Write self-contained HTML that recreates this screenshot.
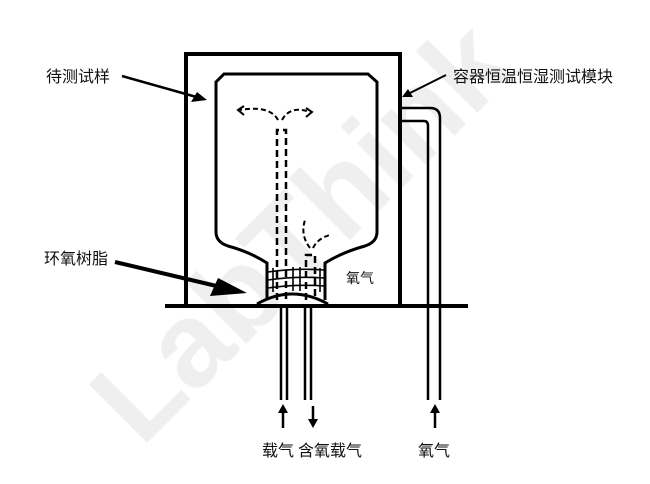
<!DOCTYPE html>
<html><head><meta charset="utf-8"><style>
html,body{margin:0;padding:0;background:#fff;}
svg{display:block;}
text{font-family:"Liberation Sans","Noto Sans CJK SC",sans-serif;fill:#111;}
</style></head><body>
<svg width="650" height="484" viewBox="0 0 650 484" xmlns="http://www.w3.org/2000/svg">
<g opacity="0.06" transform="translate(330,260) rotate(-45)">
<text x="0" y="0" font-size="120" font-weight="bold" text-anchor="middle" style="fill:#000">LabThink</text>
</g>
<g fill="none" stroke="#000" stroke-linecap="butt">
<path d="M186 306 V54 H400 V306" stroke-width="4"/>
<line x1="165" y1="306" x2="468" y2="306" stroke-width="4"/>
<path d="M267 300 V263 Q250 252 228 246 Q216 242 216 232 V82 L224 74 H368 L377 82 V232 Q377 242 365 246 Q343 252 325 263 V300" stroke-width="3"/>
<path d="M257 304 Q292 284 328 304" stroke-width="3"/>
<g stroke-width="1.6">
<path d="M268 272 Q296 268 324 270"/>
<path d="M268 280 Q296 276 324 278"/>
<path d="M268 288 Q296 284 324 286"/>
<path d="M273 268 V292 M293 267 V291 M300 267 V291 M320 268 V292"/>
</g>
<g stroke-width="2.5" stroke-dasharray="7,4">
<path d="M277 300 V130 H286 V300"/>
<path d="M306 300 V255 H315 V300"/>
</g>
<g stroke-width="2" stroke-dasharray="5,3">
<path d="M278 120 Q270 105 240 110"/>
<path d="M282 120 Q290 105 310 112"/>
<path d="M310 248 Q300 235 305 220"/>
<path d="M313 248 Q318 238 330 235"/>
</g>
<path d="M244 106 L238 110 L244 115" stroke-width="2"/>
<path d="M306 108 L312 112 L306 117" stroke-width="2"/>
<g stroke-width="2.5">
<line x1="281" y1="306" x2="281" y2="400"/>
<line x1="287" y1="306" x2="287" y2="400"/>
<line x1="305" y1="306" x2="305" y2="400"/>
<line x1="311" y1="306" x2="311" y2="400"/>
<path d="M400 108 H430 Q440 108 440 118 V400"/>
<path d="M400 121 H424 Q428 121 428 126 V400"/>
</g>
<g stroke-width="2.5">
<line x1="283" y1="428" x2="283" y2="410"/>
<line x1="313" y1="406" x2="313" y2="424"/>
<line x1="435" y1="428" x2="435" y2="410"/>
</g>
<line x1="122" y1="76" x2="200" y2="98" stroke-width="2.5"/>
<line x1="446" y1="75" x2="410" y2="93" stroke-width="2"/>
<line x1="115" y1="262" x2="225" y2="288" stroke-width="4"/>
</g>
<g fill="#000">
<path d="M283 404 L278 413 L288 413 Z"/>
<path d="M313 428 L308 419 L318 419 Z"/>
<path d="M435 404 L430 413 L440 413 Z"/>
<path d="M207 100 L191 102 L197 92 Z"/>
<path d="M402 97 L413 97 L408 89 Z"/>
<path d="M247 293 L210 296 L218 278 Z"/>
</g>
<text x="46" y="82" font-size="16">待测试样</text>
<text x="44" y="264" font-size="16">环氧树脂</text>
<text x="453" y="82" font-size="16">容器恒温恒湿测试模块</text>
<text x="346" y="283" font-size="14">氧气</text>
<text x="262" y="456" font-size="16">载气</text>
<text x="298" y="456" font-size="16">含氧载气</text>
<text x="418" y="456" font-size="16">氧气</text>
</svg>
</body></html>
